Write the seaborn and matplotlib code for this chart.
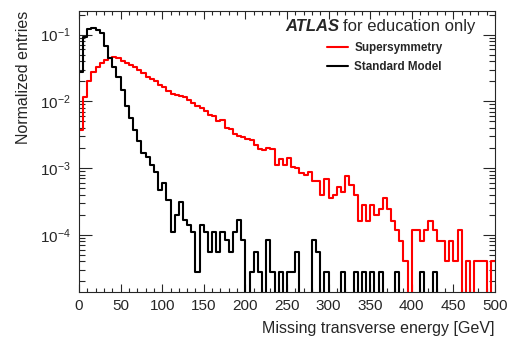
import numpy as np
import pandas as pd
import matplotlib
matplotlib.use("Agg")
import matplotlib.pyplot as plt
import seaborn as sns
from matplotlib.ticker import MultipleLocator, LogLocator, NullFormatter

# 100 bins of 5 GeV, 0-500 GeV
bin_width = 5
met_range = (0, 500)

# entries per bin (normalised by the totals below)
n_susy = 25000
susy_counts = [
    94, 294, 510, 698, 828, 950, 1055, 1130, 1150, 1110,
    1018, 950, 873, 815, 748, 663, 585, 548, 503, 445,
    415, 355, 325, 310, 305, 290, 265, 239, 216, 198,
    177, 158, 153, 125, 131, 100, 98, 80, 76, 73,
    69, 65, 56, 48, 46, 50, 48, 28, 34, 28,
    36, 26, 25, 21, 20, 22, 16, 16, 10, 17,
    9, 10, 13, 11, 19, 14, 10, 4, 7, 4,
    7, 5, 6, 9, 6, 4, 3, 2, 1, 0,
    3, 3, 2, 3, 4, 3, 2, 2, 1, 2,
    1, 3, 0, 1, 0, 1, 1, 1, 0, 1,
]

n_sm = 35700
sm_counts = [
    996, 3332, 4321, 4500, 4250, 3786, 2400, 1596, 1182, 836,
    536, 300, 201, 135, 90, 61, 52, 40, 31, 17,
    21, 12, 4, 7, 11, 6, 5, 4, 1, 5,
    4, 2, 4, 2, 4, 3, 2, 4, 6, 3,
    0, 1, 2, 1, 0, 3, 1, 0, 1, 0,
    1, 1, 2, 0, 0, 0, 3, 2, 0, 1,
    0, 0, 0, 1, 0, 0, 1, 0, 1, 0,
    1, 0, 1, 0, 0, 0, 1, 0, 0, 0,
    0, 0, 1, 0, 0, 1, 0, 0, 0, 0,
    0, 0, 0, 0, 0, 0, 0, 0, 0, 0,
]

series = [
    ("Supersymmetry", susy_counts, n_susy, "#ff0000"),
    ("Standard Model", sm_counts, n_sm, "#000000"),
]

sns.set_style("ticks")
plt.rcParams["font.family"] = ["Liberation Sans", "DejaVu Sans"]
plt.rcParams["mathtext.fontset"] = "custom"
plt.rcParams["mathtext.rm"] = "Liberation Sans"
plt.rcParams["mathtext.it"] = "Liberation Sans:italic"

fig = plt.figure(figsize=(5.12, 3.42), dpi=100)
ax = fig.add_axes([79 / 512, 1 - 292 / 342, (495 - 79) / 512, (292 - 11) / 342])

centers = np.arange(met_range[0], met_range[1], bin_width) + bin_width / 2
for label, counts, total, color in series:
    df = pd.DataFrame({"met": centers, "w": np.array(counts, dtype=float) / total})
    sns.histplot(data=df, x="met", weights="w", binwidth=bin_width, binrange=met_range,
                 element="step", fill=False, color=color, linewidth=1.5,
                 label=label, ax=ax)

ax.set_yscale("log")
ax.set_xlim(0, 500)
ax.set_ylim(1.39e-5, 0.2265)

ax.xaxis.set_major_locator(MultipleLocator(50))
ax.xaxis.set_minor_locator(MultipleLocator(10))
ax.yaxis.set_major_locator(LogLocator(base=10))
ax.yaxis.set_minor_locator(LogLocator(base=10, subs=np.arange(2, 10)))
ax.yaxis.set_minor_formatter(NullFormatter())

ax.tick_params(axis="both", which="both", direction="in", top=True, right=True,
               labelsize=11, width=0.8)
ax.tick_params(axis="x", which="major", length=6, pad=5)
ax.tick_params(axis="x", which="minor", length=3)
ax.tick_params(axis="y", which="major", length=9, pad=6)
ax.tick_params(axis="y", which="minor", length=4.5)
for s in ax.spines.values():
    s.set_linewidth(0.8)

ax.set_xlabel("Missing transverse energy [GeV]", fontsize=11.5, loc="right", labelpad=6)
ax.set_ylabel("Normalized entries", fontsize=11.5, loc="top", labelpad=6)

ax.legend(loc="upper left", bbox_to_anchor=(0.597, 0.889), frameon=False,
          prop={"weight": "bold", "size": 8.4},
          handlelength=1.8, handletextpad=0.5, labelspacing=0.55,
          borderpad=0, borderaxespad=0)

fig.text(285 / 512, 1 - 31 / 342, "ATLAS", fontsize=12, fontweight="bold",
         fontstyle="italic", va="baseline", ha="left")
fig.text(475 / 512, 1 - 31 / 342, "for education only", fontsize=12,
         va="baseline", ha="right")

fig.savefig("out.png", dpi=100)
